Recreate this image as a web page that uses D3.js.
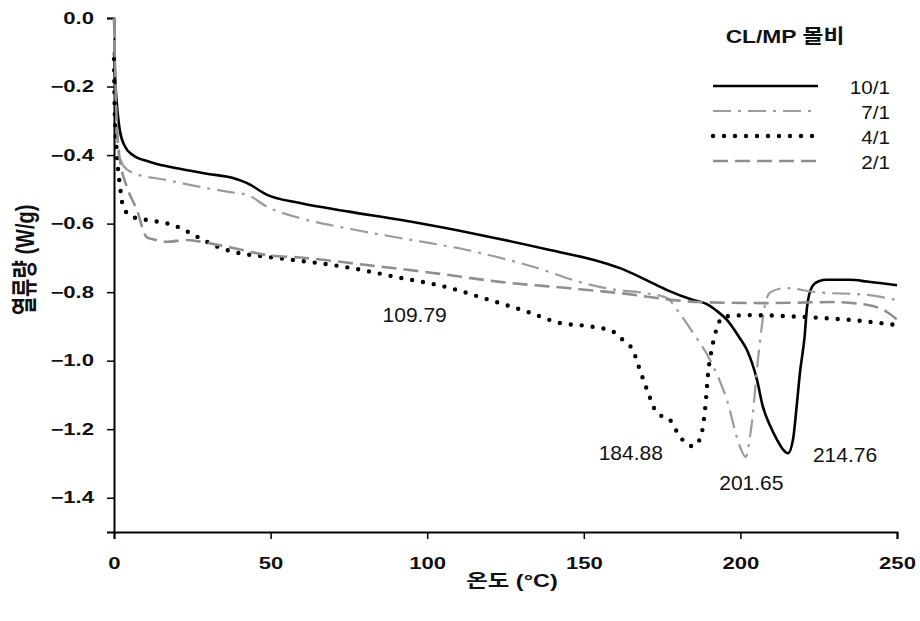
<!DOCTYPE html>
<html>
<head>
<meta charset="utf-8">
<script src="https://cdn.jsdelivr.net/npm/d3@7"></script>
<style>
  body { margin: 0; background: #fff; }
  svg text { font-family: "Liberation Sans", Arial, "Noto Sans CJK KR", sans-serif; fill: #111; }
</style>
</head>
<body>
<svg id="chart" width="920" height="621"></svg>
<script>
// values: [temperature (°C), heat flow (W/g)]
const series_10_1 = [[0,-0.10],[0.5,-0.20],[0.9,-0.25],[1.9,-0.33],[3.5,-0.375],[6,-0.40],[11.5,-0.42],[21,-0.44],[30,-0.455],[38,-0.467],[42.5,-0.482],[48.9,-0.516],[59.4,-0.54],[75,-0.565],[91.3,-0.589],[116.9,-0.633],[139.2,-0.677],[155.2,-0.711],[161.6,-0.73],[170,-0.765],[176.6,-0.794],[184.9,-0.823],[189.3,-0.835],[192.5,-0.855],[195.7,-0.881],[199.5,-0.93],[202.1,-0.969],[205.3,-1.056],[207.2,-1.135],[209.5,-1.19],[211.7,-1.231],[213.5,-1.258],[215.2,-1.27],[216.8,-1.23],[218,-1.13],[219,-1.036],[220.5,-0.93],[221.3,-0.842],[222.9,-0.784],[225,-0.768],[227.6,-0.764],[235,-0.764],[240.4,-0.769],[250,-0.78]];
const series_7_1 = [[0,-0.005],[0.3,-0.15],[0.8,-0.30],[1.5,-0.38],[2.9,-0.43],[6.1,-0.452],[16.9,-0.473],[27.5,-0.493],[37,-0.508],[42.5,-0.516],[48.9,-0.551],[59.4,-0.584],[75,-0.615],[91.3,-0.642],[112.7,-0.677],[133.8,-0.726],[149.7,-0.773],[158,-0.79],[168.9,-0.802],[176.6,-0.817],[179.8,-0.852],[184.9,-0.919],[190.3,-0.998],[195.7,-1.115],[199.9,-1.252],[201.65,-1.281],[203.5,-1.193],[205.7,-0.989],[208,-0.832],[209.6,-0.80],[214.4,-0.788],[224,-0.80],[240.4,-0.808],[250,-0.823]];
const series_4_1 = [[0,-0.12],[0.3,-0.30],[0.9,-0.39],[1.3,-0.44],[1.9,-0.49],[2.9,-0.55],[5.7,-0.58],[12.5,-0.592],[18.8,-0.604],[26.5,-0.638],[32.9,-0.667],[38,-0.682],[48.9,-0.697],[57.2,-0.706],[75.4,-0.729],[89.1,-0.754],[107.3,-0.788],[117.8,-0.817],[131.9,-0.857],[142.4,-0.89],[152,-0.90],[159.3,-0.915],[162.5,-0.94],[165.7,-0.97],[167.9,-1.027],[170.2,-1.085],[173.4,-1.153],[177.5,-1.173],[180.7,-1.222],[184.88,-1.25],[187.2,-1.226],[188.8,-1.135],[189.7,-1.036],[191,-0.96],[192.6,-0.902],[194.4,-0.872],[203,-0.867],[219,-0.872],[235,-0.881],[250,-0.896]];
const series_2_1 = [[0,0.0],[0.5,-0.2],[1.2,-0.36],[2,-0.42],[4,-0.49],[7.3,-0.56],[10.5,-0.64],[13.5,-0.648],[16.9,-0.653],[23.3,-0.648],[29.7,-0.656],[38,-0.671],[48.9,-0.692],[59.4,-0.699],[80.8,-0.721],[101.9,-0.744],[123.2,-0.77],[144.6,-0.788],[160.6,-0.802],[187.1,-0.829],[208.5,-0.832],[229.6,-0.829],[240.4,-0.837],[246.8,-0.858],[250,-0.88]];

const legendLabels = ["10/1", "7/1", "4/1", "2/1"];
const xTicks = [0, 50, 100, 150, 200, 250];
const yTicks = [0, -0.2, -0.4, -0.6, -0.8, -1.0, -1.2, -1.4];
// peak annotations: text, anchor temperature, anchor heat flow
const annoText = ["109.79", "184.88", "201.65", "214.76"];
const annoX = [96, 165, 203.5, 233.4];
const annoY = [-0.887, -1.29, -1.377, -1.296];

const styles = [
  { stroke: "#000", width: 2.6, dash: null, cap: "butt" },
  { stroke: "#9b9b9b", width: 2.2, dash: "18,7,3,7", cap: "butt" },
  { stroke: "#000", width: 4.4, dash: "0,11", cap: "round" },
  { stroke: "#8f8f8f", width: 2.6, dash: "15,7", cap: "butt" }
];
const allSeries = [series_10_1, series_7_1, series_4_1, series_2_1];

const svg = d3.select("#chart");

const x = d3.scaleLinear().domain([0, 250]).range([114, 897]);
const y = d3.scaleLinear().domain([-1.5, 0]).range([532, 18]);

// axes
const xAxis = svg.append("g")
    .attr("transform", "translate(0," + y(-1.5) + ")")
    .call(d3.axisBottom(x).tickValues(xTicks).tickSize(7).tickPadding(0).tickFormat(d3.format("d")));
const yAxis = svg.append("g")
    .attr("transform", "translate(" + x(0) + ",0)")
    .call(d3.axisLeft(y).tickValues(yTicks).tickSize(7).tickFormat(d3.format(".1f")));

[xAxis, yAxis].forEach(function (g) {
    g.select(".domain").attr("stroke", "#000").attr("stroke-width", 2);
    g.selectAll(".tick line").attr("stroke", "#000").attr("stroke-width", 1.5);
});
const sx = 1.38;
xAxis.selectAll(".tick text")
    .attr("font-size", 16).attr("font-weight", "bold")
    .attr("y", 37).attr("dy", null)
    .attr("transform", "scale(" + sx + ",1)");
yAxis.selectAll(".tick text")
    .attr("font-size", 16).attr("font-weight", "bold")
    .attr("x", -20 / sx)
    .attr("transform", "scale(" + sx + ",1)");

// curves
const line = d3.line()
    .x(d => x(d[0]))
    .y(d => y(d[1]))
    .curve(d3.curveMonotoneX);

allSeries.forEach(function (s, i) {
    svg.append("path")
        .datum(s)
        .attr("d", line)
        .attr("fill", "none")
        .attr("stroke", styles[i].stroke)
        .attr("stroke-width", styles[i].width)
        .attr("stroke-dasharray", styles[i].dash)
        .attr("stroke-linecap", styles[i].cap)
        .attr("stroke-linejoin", "round");
});

// annotations
svg.selectAll(".anno")
    .data(annoText)
    .enter().append("text")
    .attr("class", "anno")
    .attr("x", (d, i) => x(annoX[i]))
    .attr("y", (d, i) => y(annoY[i]))
    .attr("text-anchor", "middle")
    .attr("font-size", 21)
    .text(d => d);

// axis titles
svg.append("text")
    .attr("transform", "translate(512,587) scale(1.3,1)")
    .attr("text-anchor", "middle")
    .attr("font-size", 18)
    .attr("font-weight", "bold")
    .text("온도 (°C)");
svg.append("text")
    .attr("transform", "translate(34,260) rotate(-90) scale(1,1.3)")
    .attr("text-anchor", "middle")
    .attr("font-size", 20)
    .attr("font-weight", "bold")
    .text("열류량 (W/g)");

// legend
const legend = svg.append("g");
legend.append("text")
    .attr("transform", "translate(785,43) scale(1.2,1)")
    .attr("text-anchor", "middle")
    .attr("font-size", 19)
    .attr("font-weight", "bold")
    .text("CL/MP 몰비");

const legendY = d3.scalePoint().domain(legendLabels).range([86, 161]);
legendLabels.forEach(function (lab, i) {
    const ly = legendY(lab);
    legend.append("line")
        .attr("x1", 713).attr("x2", 818)
        .attr("y1", ly).attr("y2", ly)
        .attr("stroke", styles[i].stroke)
        .attr("stroke-width", styles[i].width)
        .attr("stroke-dasharray", styles[i].dash)
        .attr("stroke-linecap", styles[i].cap);
    legend.append("text")
        .attr("transform", "translate(890," + (ly + 8) + ") scale(1.15,1)")
        .attr("text-anchor", "end")
        .attr("font-size", 18)
        .text(lab);
});
</script>
</body>
</html>
